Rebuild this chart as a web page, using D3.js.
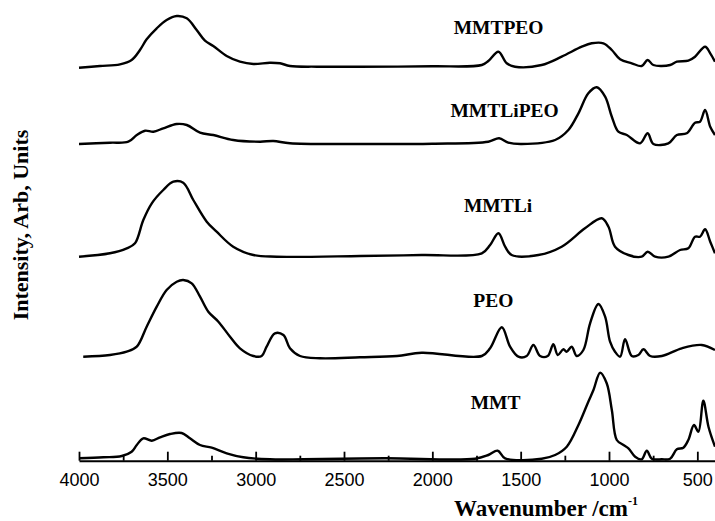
<!DOCTYPE html>
<html>
<head>
<meta charset="utf-8">
<script src="https://cdn.jsdelivr.net/npm/d3@7"></script>
<style>
  body { margin: 0; background: #fff; }
  svg { display: block; }
  .x.axis text { font-family: 'Liberation Sans', Arial, sans-serif; font-size: 18px; fill: #000; }
  .lbl { font-family: 'Liberation Serif', 'Times New Roman', serif; font-weight: bold; fill: #000; }
</style>
</head>
<body>
<div id="chart"></div>
<script>
/* global d3 */

// spectra: [wavenumber cm-1, intensity a.u. above the trace's own baseline]
const mmt = [[4000, 0.1], [3862, 0.2], [3758, 0.33], [3702, 0.76], [3673, 1.43], [3636, 2.1], [3588, 1.86],
  [3541, 2.2], [3485, 2.53], [3419, 2.63], [3372, 2.1], [3315, 1.43], [3249, 1.16], [3164, 0.6], [3070, 0.2],
  [2919, 0], [2730, 0], [2268, 0.1], [1758, 0.06], [1683, 0.43], [1630, 0.86], [1588, 0.1], [1381, 0.06],
  [1305, 0.43], [1239, 1.26], [1173, 3.43], [1117, 5.76], [1088, 6.93], [1050, 8.66], [1013, 7.6], [984, 4.93],
  [956, 1.93], [918, 1.43], [890, 1.1], [852, 0.26], [815, 0], [786, 0.86], [758, 0.06], [701, 0], [654, 0.06],
  [616, 1.0], [579, 1.16], [551, 1.93], [519, 3.43], [494, 2.76], [466, 5.86], [437, 3.26], [400, 1.26]]

const peo = [[3976, 0.03], [3825, 0.2], [3730, 0.53], [3673, 1.03], [3617, 3.03], [3560, 5.03], [3504, 6.7],
  [3447, 7.53], [3410, 7.7], [3362, 7.37], [3315, 6.03], [3268, 4.53], [3211, 3.53], [3145, 2.03], [3089, 0.87],
  [3013, 0.1], [2966, 0.1], [2938, 1.03], [2891, 2.37], [2843, 2.2], [2806, 0.87], [2749, 0.1], [2636, -0.13],
  [2409, -0.03], [2200, 0.1], [2060, 0.43], [1720, 0.1], [1673, 0.87], [1607, 2.97], [1560, 1.03], [1513, 0.03],
  [1466, 0.1], [1428, 1.2], [1390, 0.1], [1347, 0.1], [1315, 1.27], [1290, 0.2], [1258, 0.77], [1240, 0.53],
  [1211, 1.03], [1183, 0.1], [1145, 0.7], [1107, 3.37], [1060, 5.3], [1022, 4.03], [994, 1.53], [966, 0.53],
  [937, 0.03], [909, 1.77], [871, 0.1], [834, 0.2], [805, 0.77], [767, 0.1], [701, 0.1], [588, 0.87],
  [475, 1.2], [400, 0.7]]

const mmtli = [[4000, 0], [3825, 0.34], [3730, 0.84], [3683, 1.34], [3636, 3.67], [3588, 5.34], [3523, 6.67],
  [3466, 7.5], [3410, 7.4], [3353, 5.67], [3277, 3.5], [3221, 2.5], [3127, 1.0], [3013, 0.17], [2881, 0],
  [2409, 0.07], [2060, 0.17], [1720, 0.34], [1673, 1.17], [1626, 2.34], [1588, 1.0], [1551, 0.17], [1400, 0.17],
  [1268, 1.0], [1136, 2.84], [1041, 3.84], [1003, 3.0], [966, 1.0], [890, 0.17], [815, 0], [781, 0.5], [739, 0],
  [664, 0], [598, 0.67], [551, 0.84], [513, 2.0], [485, 2.0], [456, 2.74], [427, 1.5], [400, 0.34]]

const mmtlipeo = [[4000, 0], [3825, 0.13], [3721, 0.23], [3673, 0.9], [3626, 1.33], [3579, 1.23], [3523, 1.57],
  [3447, 2.0], [3390, 1.9], [3315, 1.13], [3240, 0.9], [3127, 0.4], [2975, 0.23], [2900, 0.3], [2806, 0.07],
  [2409, 0], [2000, 0.03], [1683, 0.23], [1622, 0.57], [1570, 0.13], [1494, 0], [1305, 0.4], [1230, 1.4],
  [1173, 3.07], [1117, 5.07], [1069, 5.67], [1022, 4.73], [984, 2.73], [947, 1.23], [899, 0.9], [824, 0.07],
  [781, 1.07], [749, 0], [664, 0.07], [616, 0.9], [560, 1.07], [513, 2.13], [485, 2.23], [456, 3.4],
  [427, 1.73], [400, 0.9]]

const mmtpeo = [[4000, 0], [3881, 0.17], [3768, 0.34], [3702, 0.77], [3655, 1.77], [3617, 2.84], [3560, 3.94],
  [3504, 4.77], [3447, 5.17], [3390, 4.94], [3334, 3.77], [3287, 2.7], [3240, 2.17], [3164, 1.17], [3089, 0.6],
  [3013, 0.37], [2919, 0.5], [2862, 0.44], [2806, 0.17], [2654, 0.1], [2409, 0.1], [2000, 0.14], [1720, 0.27],
  [1683, 0.67], [1626, 1.6], [1579, 0.44], [1532, 0.1], [1381, 0.27], [1268, 1.1], [1154, 2.1], [1098, 2.44],
  [1032, 2.44], [984, 1.77], [937, 0.84], [871, 0.44], [815, 0.17], [781, 0.77], [749, 0.27], [654, 0.27],
  [616, 0.6], [551, 0.7], [513, 1.1], [456, 2.1], [427, 1.44], [400, 0.6]]

const seriesNames = ['MMT', 'PEO', 'MMTLi', 'MMTLiPEO', 'MMTPEO']
const seriesData = [mmt, peo, mmtli, mmtlipeo, mmtpeo]
const seriesOffsets = [0.14, 10.37, 20.4, 31.67, 39.3]
// where each name sits, in data units (wavenumber, intensity)
const labelWave = [1642, 1655, 1628, 1591, 1625]
const labelLevel = [5.14, 15.34, 24.9, 34.4, 42.64]

const majorTicks = [4000, 3500, 3000, 2500, 2000, 1500, 1000, 500]
const minorTicks = [3750, 3250, 2750, 2250, 1750, 1250, 750]

let DrawSpectra = function (id) {
    this.svgWidth = 715
    this.svgHeight = 521
    this.margin = { top: 0, right: 0, bottom: 60.3, left: 79 }
    this.width = this.svgWidth - this.margin.left - this.margin.right
    this.height = this.svgHeight - this.margin.top - this.margin.bottom

    this.svg = d3.select(id).append('svg')
        .attr('width', this.svgWidth)
        .attr('height', this.svgHeight)

    this.graphContainer = this.svg.append('g')
        .attr('transform', 'translate(' + this.margin.left + ', ' + this.margin.top + ')')

    this.xScale = d3.scaleLinear().domain([4000, 400]).range([0, this.width])
    this.yScale = d3.scaleLinear().domain([0, 46.07]).range([this.height, 0])
}

DrawSpectra.prototype.axes = function () {
    let xAxis = d3.axisBottom(this.xScale)
        .tickValues(majorTicks)
        .tickSizeInner(-9)
        .tickSizeOuter(0)
        .tickPadding(13)
        .tickFormat(d3.format('d'))

    let minorAxis = d3.axisBottom(this.xScale)
        .tickValues(minorTicks)
        .tickSizeInner(-5)
        .tickSizeOuter(0)
        .tickFormat('')

    let gx = this.graphContainer.append('g')
        .attr('class', 'x axis')
        .attr('transform', 'translate(0,' + this.height + ')')
        .call(xAxis)
    gx.select('.domain').attr('stroke-width', 2)
    gx.selectAll('.tick line').attr('stroke-width', 1.8)

    let gm = this.graphContainer.append('g')
        .attr('class', 'x minor')
        .attr('transform', 'translate(0,' + this.height + ')')
        .call(minorAxis)
    gm.select('.domain').remove()
    gm.selectAll('.tick line').attr('stroke-width', 1.8)

    // axis titles
    this.svg.append('text')
        .attr('class', 'lbl')
        .attr('transform', 'translate(28,225) rotate(-90)')
        .attr('text-anchor', 'middle')
        .style('font-size', '22px')
        .text('Intensity, Arb, Units')

    let xt = this.svg.append('text')
        .attr('class', 'lbl')
        .attr('x', 454)
        .attr('y', 516)
        .style('font-size', '23px')
    xt.append('tspan').text('Wavenumber /cm')
    xt.append('tspan')
        .attr('dy', -11)
        .style('font-size', '12px')
        .text('-1')
}

DrawSpectra.prototype.traces = function () {
    let self = this
    seriesData.forEach(function (data, i) {
        let valueline = d3.line()
            .x(function (d) { return self.xScale(d[0]) })
            .y(function (d) { return self.yScale(d[1] + seriesOffsets[i]) })
            .curve(d3.curveCatmullRom.alpha(0.5))

        self.graphContainer.append('path')
            .attr('d', valueline(data))
            .attr('fill', 'none')
            .attr('stroke', '#000')
            .attr('stroke-width', 2.4)
            .attr('stroke-linejoin', 'round')

        self.graphContainer.append('text')
            .attr('class', 'lbl')
            .attr('x', self.xScale(labelWave[i]))
            .attr('y', self.yScale(labelLevel[i]))
            .attr('text-anchor', 'middle')
            .style('font-size', '19.5px')
            .text(seriesNames[i])
    })
}

let chart = new DrawSpectra('#chart')
chart.axes()
chart.traces()
</script>
</body>
</html>
